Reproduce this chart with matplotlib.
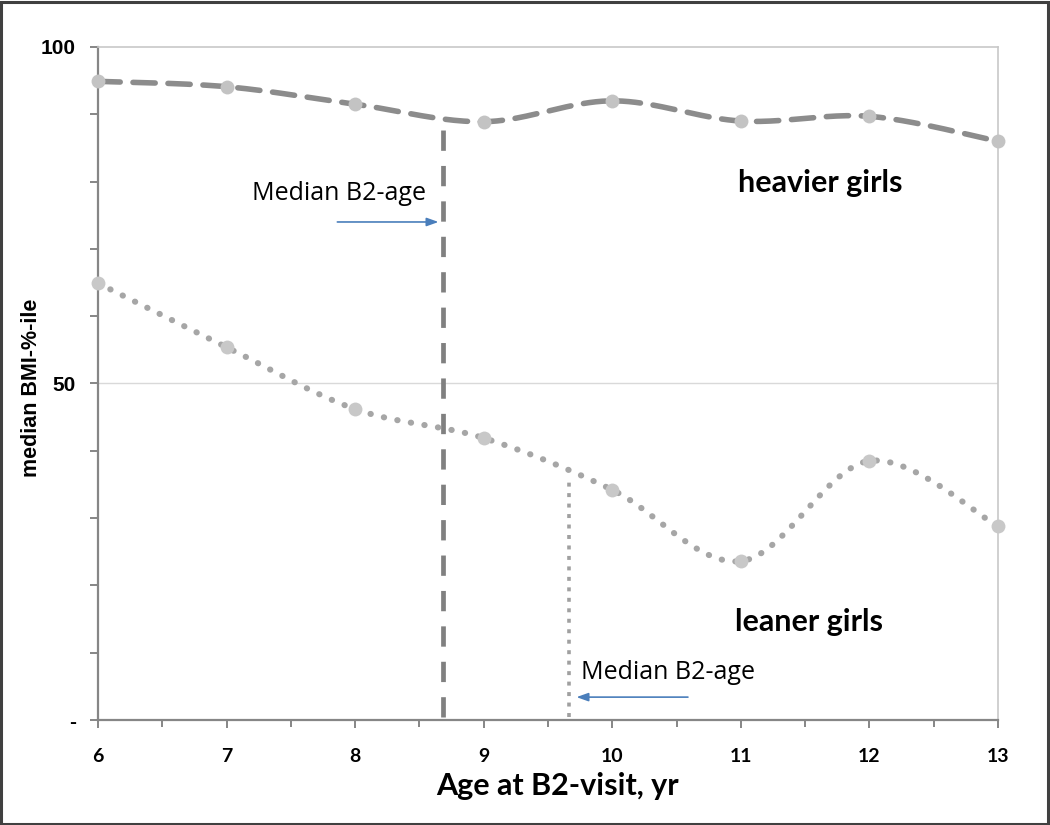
import numpy as np
import matplotlib
matplotlib.use("Agg")
import matplotlib.pyplot as plt
from matplotlib.patches import Rectangle

# ---- data ----
ages = [6, 7, 8, 9, 10, 11, 12, 13]
heavier = [94.9, 94.1, 91.5, 88.9, 92.0, 89.0, 89.7, 86.0]
leaner = [64.9, 55.4, 46.2, 41.9, 34.2, 23.6, 38.5, 28.8]
median_age_heavier = 8.68
median_top_heavier = 89.2
median_age_leaner = 9.66
median_top_leaner = 35.8
y_ticks = [0, 10, 20, 30, 40, 50, 60, 70, 80, 90, 100]
y_labels = ["-", "", "", "", "", "50", "", "", "", "", "100"]
x_ticks = [6, 7, 8, 9, 10, 11, 12, 13]
x_labels = ["6", "7", "8", "9", "10", "11", "12", "13"]


def smooth(x, y, n=40):
    """Excel-style smoothed line (Catmull-Rom Bezier) through the points."""
    P = np.column_stack([x, y]).astype(float)
    out = []
    m = len(P)
    for i in range(m - 1):
        p0 = P[i - 1] if i > 0 else P[i]
        p1 = P[i]
        p2 = P[i + 1]
        p3 = P[i + 2] if i + 2 < m else P[i + 1]
        c1 = p1 + (p2 - p0) / 6.0
        c2 = p2 - (p3 - p1) / 6.0
        t = np.linspace(0, 1, n)[:, None]
        seg = ((1 - t) ** 3) * p1 + 3 * ((1 - t) ** 2) * t * c1 + 3 * (1 - t) * t ** 2 * c2 + t ** 3 * p2
        if i > 0:
            seg = seg[1:]
        out.append(seg)
    s = np.vstack(out)
    return s[:, 0], s[:, 1]


fig = plt.figure(figsize=(10.5, 8.25), dpi=100)
ax = fig.add_axes([98 / 1050, 1 - 720 / 825, 900 / 1050, 673 / 825])

# outer frame
fig.patches.append(Rectangle((0.001, 0.001), 0.997, 0.997, transform=fig.transFigure,
                             fill=False, edgecolor="#404040", linewidth=2.2))

ax.set_xlim(6, 13)
ax.set_ylim(0, 100)

# gridline at 50
ax.axhline(50, color="#d9d9d9", lw=1.0, zorder=0)

# spines
for s in ["left", "bottom"]:
    ax.spines[s].set_color("#868686")
    ax.spines[s].set_linewidth(1.6)
for s in ["top", "right"]:
    ax.spines[s].set_color("#c8c8c8")
    ax.spines[s].set_linewidth(1.2)

ax.set_yticks(y_ticks)
ax.set_yticklabels(y_labels, fontsize=15, fontweight="bold", family="Liberation Sans")
ax.set_xticks(x_ticks)
ax.set_xticklabels(x_labels, fontsize=14, fontweight="bold", family="Lato")
ax.set_xticks(np.array(x_ticks[:-1]) + 0.5, minor=True)
ax.tick_params(axis="both", which="major", direction="out", length=6, width=1.4,
               color="#868686")
ax.tick_params(axis="x", which="minor", direction="out", length=5, width=1.4, color="#868686")
ax.tick_params(axis="x", which="major", pad=14)
ax.tick_params(axis="y", which="major", pad=10)

# vertical median lines
ax.plot([median_age_heavier, median_age_heavier], [0.5, median_top_heavier],
        color="#808080", lw=3.4, linestyle=(0, (4.3, 3.2)), solid_capstyle="butt",
        dash_capstyle="butt", zorder=2)
ax.plot([median_age_leaner, median_age_leaner], [0.5, median_top_leaner],
        color="#a0a0a0", lw=2.6, linestyle=(0, (1.1, 1.8)), dash_capstyle="butt", zorder=2)

# curves
hx, hy = smooth(ages, heavier)
ax.plot(hx, hy, color="#8c8c8c", lw=4.0, linestyle=(0, (4.0, 2.3)),
        dash_capstyle="round", zorder=3, clip_on=False)
ax.plot(ages, heavier, "o", color="#c3c3c3", ms=10, mec="none", zorder=4, clip_on=False)

lx, ly = smooth(ages, leaner)
ax.plot(lx, ly, color="#a6a6a6", lw=4.4, linestyle=(0, (0.05, 2.2)),
        dash_capstyle="round", zorder=3, clip_on=False)
ax.plot(ages, leaner, "o", color="#c8c8c8", ms=10, mec="none", zorder=4, clip_on=False)

# annotations
ax.text(0.802, 0.798, "heavier girls", transform=ax.transAxes, ha="center", va="center",
        fontsize=22, fontweight="bold", family="Lato")
ax.text(0.79, 0.146, "leaner girls", transform=ax.transAxes, ha="center", va="center",
        fontsize=22, fontweight="bold", family="Lato")

ax.text(7.2, 78.2, "Median B2-age", ha="left", va="center", fontsize=18, family="Open Sans")
ax.annotate("", xy=(median_age_heavier - 0.01, 74.0), xytext=(7.84, 74.0),
            arrowprops=dict(arrowstyle="-|>,head_length=0.7,head_width=0.25", color="#4a7ebb", lw=1.2))
ax.text(9.76, 7.0, "Median B2-age", ha="left", va="center", fontsize=18, family="Open Sans")
ax.annotate("", xy=(median_age_leaner + 0.04, 3.4), xytext=(10.61, 3.4),
            arrowprops=dict(arrowstyle="-|>,head_length=0.7,head_width=0.25", color="#4a7ebb", lw=1.2))

ax.set_xlabel("Age at B2-visit, yr", fontsize=22, fontweight="bold", family="Lato")
ax.xaxis.set_label_coords(0.51, -0.077)
ax.set_ylabel("median BMI-%-ile", fontsize=15.5, fontweight="bold", family="Liberation Sans")
ax.yaxis.set_label_coords(-0.062, 0.493)

fig.savefig("out.png", dpi=100)
